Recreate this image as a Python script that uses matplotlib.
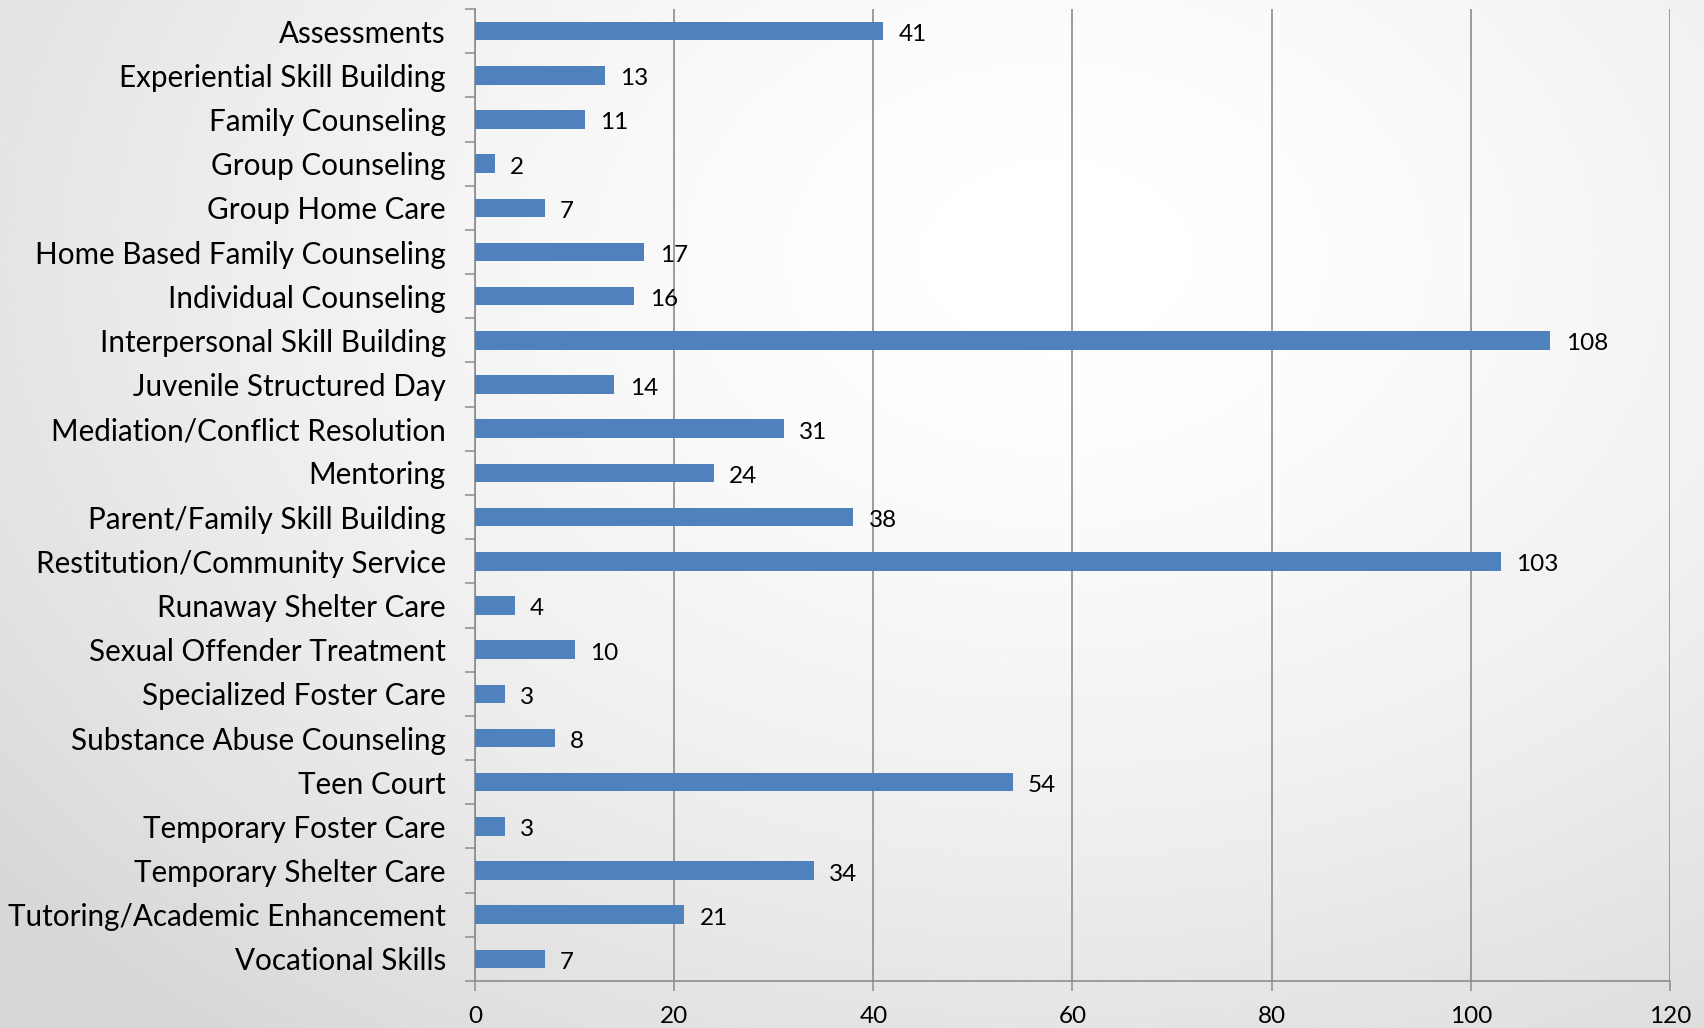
import numpy as np
import matplotlib
matplotlib.use("Agg")
import matplotlib.pyplot as plt
from matplotlib.ticker import FixedLocator

plt.rcParams['font.family'] = ['Lato', 'DejaVu Sans']

# data
categories = [
    "Assessments", "Experiential Skill Building", "Family Counseling",
    "Group Counseling", "Group Home Care", "Home Based Family Counseling",
    "Individual Counseling", "Interpersonal Skill Building",
    "Juvenile Structured Day", "Mediation/Conflict Resolution", "Mentoring",
    "Parent/Family Skill Building", "Restitution/Community Service",
    "Runaway Shelter Care", "Sexual Offender Treatment",
    "Specialized Foster Care", "Substance Abuse Counseling", "Teen Court",
    "Temporary Foster Care", "Temporary Shelter Care",
    "Tutoring/Academic Enhancement", "Vocational Skills",
]
counts = [41, 13, 11, 2, 7, 17, 16, 108, 14, 31, 24, 38, 103, 4, 10, 3, 8, 54, 3, 34, 21, 7]
x_ticks = [0, 20, 40, 60, 80, 100, 120]

BAR_COLOR = "#4F81BD"
GRID_COLOR = "#8c8c8c"

fig = plt.figure(figsize=(17.04, 10.28), dpi=100)

# radial background, light centre fading to grey edges
bg = fig.add_axes([0, 0, 1, 1], zorder=-10)
yy, xx = np.mgrid[0:1:400j, 0:1:600j]
r = np.sqrt(((xx - 0.62) / 0.75) ** 2 + ((yy - 0.25) / 0.9) ** 2)
shade = np.clip(1.0 - 0.14 * r ** 1.6, 0.84, 1.0)
bg.imshow(shade, cmap="gray", vmin=0, vmax=1, aspect="auto", extent=[0, 1, 1, 0])
bg.set_axis_off()

ax = fig.add_axes([0.2788, 0.0457, 0.7012, 0.9455])
ax.set_facecolor("none")

y = np.arange(len(categories))
ax.barh(y, counts, height=0.42, color=BAR_COLOR, zorder=3)

for yi, v in zip(y, counts):
    ax.annotate(str(v), (v, yi), xytext=(11, -2.5), textcoords="offset points",
                va="center", ha="left", fontsize=17.5, color="black")

ax.set_xlim(0, 120)
ax.set_ylim(len(categories) - 0.5, -0.5)
ax.xaxis.set_major_locator(FixedLocator(x_ticks))
ax.set_yticks(y)
ax.set_yticklabels(categories, fontsize=21.3)
ax.yaxis.set_minor_locator(FixedLocator(np.arange(-0.5, len(categories), 1)))
ax.tick_params(axis="y", which="major", length=0, pad=21)
ax.tick_params(axis="y", which="minor", length=7, width=1.1, color=GRID_COLOR, direction="out")
ax.tick_params(axis="x", length=7, width=1.1, color=GRID_COLOR, labelsize=17.5, pad=11)

ax.grid(axis="x", color=GRID_COLOR, linewidth=1.2, zorder=1)
ax.set_axisbelow(True)
for side in ["top", "right"]:
    ax.spines[side].set_visible(False)
for side in ["left", "bottom"]:
    ax.spines[side].set_color(GRID_COLOR)
    ax.spines[side].set_linewidth(1.2)

fig.savefig("out.png", dpi=100)
